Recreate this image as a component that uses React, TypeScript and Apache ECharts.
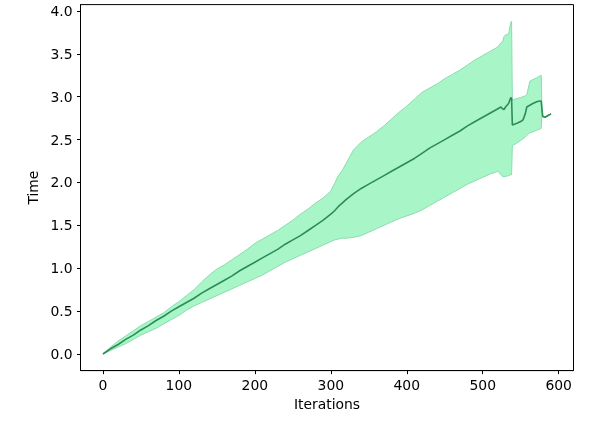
import React, { useEffect, useRef } from "react";
import * as echarts from "echarts";

const iterations = [
  0, 10, 20, 30, 40, 50, 60, 70, 80, 90,
  100, 110, 120, 130, 140, 150, 160, 170, 180, 190,
  200, 210, 220, 230, 240, 250, 260, 270, 280, 290,
  300, 305, 310, 315, 320, 330, 340, 350, 360, 370,
  380, 390, 400, 410, 420, 430, 440, 450, 460, 470,
  480, 490, 500, 510, 520, 524, 526, 528, 530, 534,
  537, 538, 539, 545, 550, 553, 556, 558, 562, 566,
  571, 575, 577, 578, 579, 582, 586, 590,
];

const meanTime = [
  0, 0.06, 0.11, 0.17, 0.22, 0.28, 0.33, 0.39, 0.44, 0.5,
  0.55, 0.6, 0.65, 0.71, 0.76, 0.81, 0.86, 0.91, 0.97, 1.02,
  1.07, 1.12, 1.17, 1.22, 1.28, 1.33, 1.38, 1.44, 1.5, 1.56,
  1.63, 1.67, 1.72, 1.76, 1.8, 1.87, 1.93, 1.98, 2.03, 2.08,
  2.13, 2.18, 2.23, 2.28, 2.34, 2.4, 2.45, 2.5, 2.55, 2.6,
  2.66, 2.71, 2.76, 2.81, 2.86, 2.88, 2.86, 2.85, 2.88, 2.92,
  2.99, 2.98, 2.67, 2.69, 2.71, 2.73, 2.8, 2.88, 2.9, 2.92,
  2.94, 2.95, 2.95, 2.85, 2.77, 2.76, 2.78, 2.8,
];

const upperTime = [
  0, 0.08, 0.15, 0.21, 0.27, 0.33, 0.38, 0.43, 0.48, 0.55,
  0.61, 0.68, 0.75, 0.84, 0.92, 0.99, 1.04, 1.1, 1.16, 1.22,
  1.29, 1.34, 1.39, 1.44, 1.5, 1.56, 1.63, 1.69, 1.76, 1.82,
  1.9, 1.99, 2.08, 2.14, 2.22, 2.38, 2.47, 2.53, 2.59, 2.66,
  2.74, 2.82, 2.89, 2.97, 3.05, 3.1, 3.15, 3.21, 3.26, 3.31,
  3.37, 3.43, 3.48, 3.53, 3.58, 3.63, 3.64, 3.7, 3.72, 3.73,
  3.87, 3.88, 2.96, 2.98, 2.99, 3.0, 3.01, 3.02, 3.18, 3.2,
  3.22, 3.24, 3.25, 2.85, 2.77, 2.76, 2.78, 2.8,
];

const lowerTime = [
  0, 0.04, 0.08, 0.12, 0.17, 0.22, 0.26, 0.3, 0.35, 0.4,
  0.45, 0.51, 0.56, 0.6, 0.64, 0.68, 0.72, 0.76, 0.8, 0.84,
  0.88, 0.92, 0.97, 1.02, 1.07, 1.11, 1.15, 1.19, 1.23, 1.27,
  1.31, 1.33, 1.34, 1.35, 1.35, 1.36, 1.38, 1.42, 1.46, 1.5,
  1.54, 1.58, 1.61, 1.64, 1.68, 1.73, 1.78, 1.83, 1.88, 1.93,
  1.98, 2.02, 2.06, 2.1, 2.13, 2.09, 2.07, 2.07, 2.07, 2.08,
  2.09, 2.09, 2.43, 2.46, 2.49, 2.51, 2.53, 2.55, 2.58, 2.59,
  2.61, 2.62, 2.63, 2.85, 2.77, 2.76, 2.78, 2.8,
];

const xTicks = [0, 100, 200, 300, 400, 500, 600];
const yTicks = [0, 0.5, 1, 1.5, 2, 2.5, 3, 3.5, 4];

const FONT = "DejaVu Sans";
const FILL = "#a8f6c8";
const EDGE = "#8bdcad";
const MEAN = "#2e8b57";

export default function App() {
  const ref = useRef<HTMLDivElement>(null);

  useEffect(() => {
    if (!ref.current) return;
    const chart = echarts.init(ref.current, null, { renderer: "svg" });

    const bandData = iterations.map((x, i) => [x, upperTime[i], lowerTime[i]]);
    const meanData = iterations.map((x, i) => [x, meanTime[i]]);

    const xMin = -29.5;
    const xMax = 619.5;
    const yMin = -0.194;
    const yMax = 4.074;

    const renderBand = (params: any, api: any) => {
      if (params.dataIndex !== 0) return null;
      const pts: number[][] = [];
      for (let i = 0; i < bandData.length; i++) {
        pts.push(api.coord([bandData[i][0], bandData[i][1]]));
      }
      for (let i = bandData.length - 1; i >= 0; i--) {
        pts.push(api.coord([bandData[i][0], bandData[i][2]]));
      }
      return {
        type: "polygon",
        shape: { points: pts },
        style: { fill: FILL, stroke: EDGE, lineWidth: 1 },
        silent: true,
      };
    };

    chart.setOption({
      animation: false,
      grid: {
        left: 80.5,
        right: 25.5,
        top: 4.6,
        bottom: 52.4,
        show: true,
        borderColor: "#000",
        borderWidth: 1,
        backgroundColor: "transparent",
      },
      xAxis: {
        type: "value",
        min: xMin,
        max: xMax,
        name: "Iterations",
        nameLocation: "middle",
        nameGap: 26,
        nameTextStyle: { fontFamily: FONT, fontSize: 13.9, color: "#000" },
        axisLine: { show: true, onZero: false, lineStyle: { color: "#000", width: 1 } },
        axisTick: {
          show: true,
          length: 3.5,
          lineStyle: { color: "#000", width: 1 },
          customValues: xTicks,
        },
        axisLabel: {
          margin: 7,
          fontFamily: FONT,
          fontSize: 13.9,
          color: "#000",
          customValues: xTicks,
          formatter: (v: number) => String(v),
        },
        splitLine: { show: false },
      },
      yAxis: {
        type: "value",
        min: yMin,
        max: yMax,
        name: "Time",
        nameLocation: "middle",
        nameGap: 37,
        nameRotate: 90,
        nameTextStyle: { fontFamily: FONT, fontSize: 13.9, color: "#000" },
        axisLine: { show: true, onZero: false, lineStyle: { color: "#000", width: 1 } },
        axisTick: {
          show: true,
          length: 3.5,
          lineStyle: { color: "#000", width: 1 },
          customValues: yTicks,
        },
        axisLabel: {
          margin: 8,
          fontFamily: FONT,
          fontSize: 13.9,
          color: "#000",
          customValues: yTicks,
          formatter: (v: number) => v.toFixed(1),
        },
        splitLine: { show: false },
      },
      series: [
        {
          name: "band",
          type: "custom",
          data: bandData,
          encode: { x: 0, y: [1, 2] },
          renderItem: renderBand,
          clip: true,
          z: 2,
        },
        {
          name: "mean",
          type: "line",
          data: meanData,
          symbol: "none",
          showSymbol: false,
          lineStyle: { color: MEAN, width: 1.6 },
          z: 3,
        },
      ],
    });

    return () => chart.dispose();
  }, []);

  return (
    <div
      ref={ref}
      style={{ position: "fixed", left: 0, top: 0, width: 599, height: 423 }}
    />
  );
}
